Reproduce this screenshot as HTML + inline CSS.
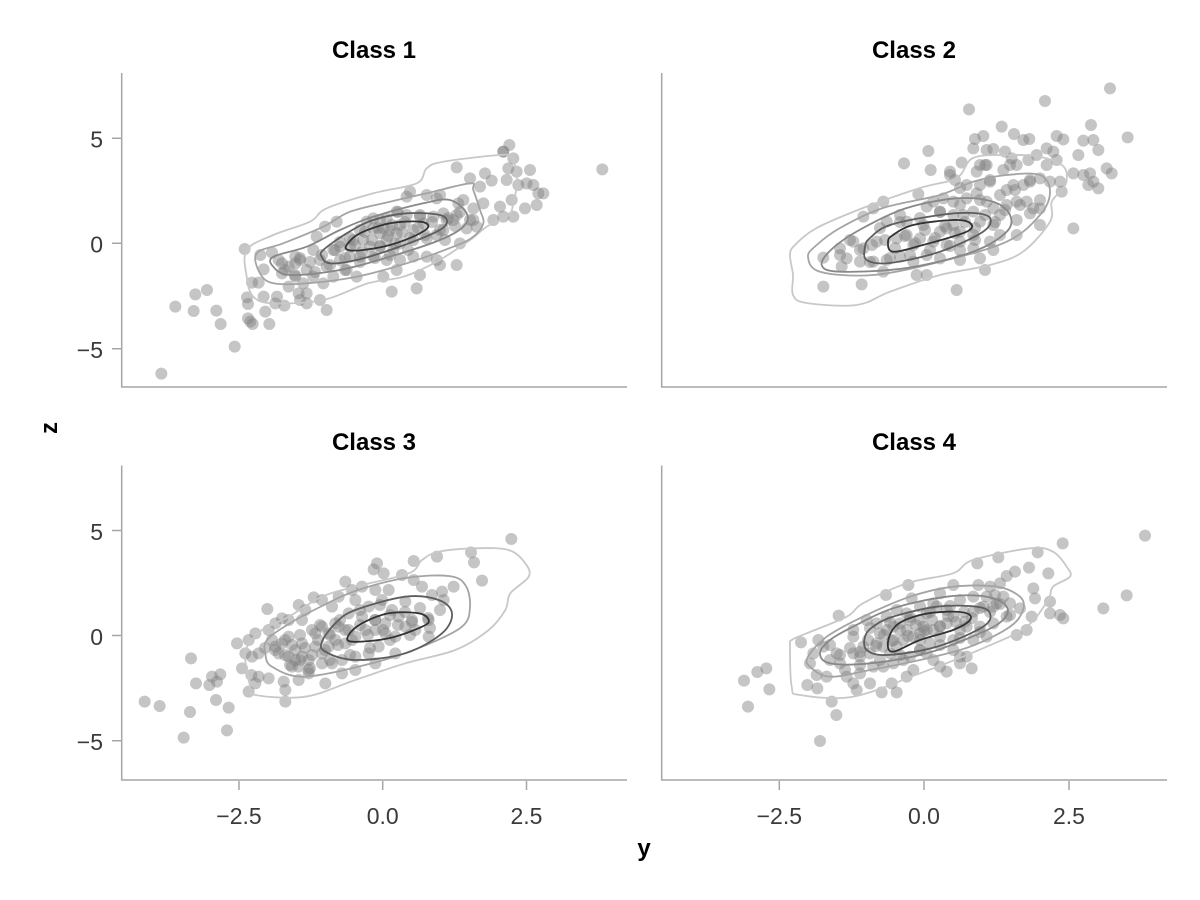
<!DOCTYPE html>
<html><head><meta charset="utf-8"><style>
html,body{margin:0;padding:0;background:#fff}
svg{display:block}
text{font-family:"Liberation Sans",sans-serif}
.tk{font-size:23px;fill:#3a3a3a}
.ti{font-size:24px;font-weight:bold;fill:#000}
.sp{stroke:#a6a6a6;stroke-width:1.5;fill:none}
.c{fill:none;stroke-width:1.8;stroke-linejoin:round}
.l1{stroke:#c8c8c8}.l2{stroke:#a4a4a4}.l3{stroke:#888}.l4{stroke:#5e5e5e}.l5{stroke:#333}
.pt circle{fill:#808080;fill-opacity:0.46}
</style></head><body>
<svg id="chart" width="1200" height="900" viewBox="0 0 1200 900" xmlns="http://www.w3.org/2000/svg">
<rect width="1200" height="900" fill="#fff"/>

<!-- titles -->
<text class="ti" x="374" y="58" text-anchor="middle">Class 1</text>
<text class="ti" x="914" y="58" text-anchor="middle">Class 2</text>
<text class="ti" x="374" y="450" text-anchor="middle">Class 3</text>
<text class="ti" x="914" y="450" text-anchor="middle">Class 4</text>
<text class="ti" x="644" y="856" text-anchor="middle">y</text>
<text class="ti" transform="translate(57,428) rotate(-90)" text-anchor="middle">z</text>

<!-- spines -->
<path class="sp" d="M121.7 73 V387 H627"/>
<path class="sp" d="M661.7 73 V387 H1167"/>
<path class="sp" d="M121.7 465.5 V780 H627"/>
<path class="sp" d="M661.7 465.5 V780 H1167"/>

<!-- y ticks -->
<path class="sp" d="M112 138.3H121M112 243.3H121M112 348.7H121M112 530.5H121M112 635.5H121M112 740.7H121"/>
<text class="tk" x="103" y="147.6" text-anchor="end">5</text>
<text class="tk" x="103" y="252.6" text-anchor="end">0</text>
<text class="tk" x="103" y="358" text-anchor="end">−5</text>
<text class="tk" x="103" y="539.8" text-anchor="end">5</text>
<text class="tk" x="103" y="644.8" text-anchor="end">0</text>
<text class="tk" x="103" y="750" text-anchor="end">−5</text>

<!-- x ticks -->
<path class="sp" d="M239 781V790M382.7 781V790M526.5 781V790M779.3 781V790M924 781V790M1069 781V790"/>
<text class="tk" x="239" y="824" text-anchor="middle">−2.5</text>
<text class="tk" x="382.7" y="824" text-anchor="middle">0.0</text>
<text class="tk" x="526.5" y="824" text-anchor="middle">2.5</text>
<text class="tk" x="779.3" y="824" text-anchor="middle">−2.5</text>
<text class="tk" x="924" y="824" text-anchor="middle">0.0</text>
<text class="tk" x="1069" y="824" text-anchor="middle">2.5</text>

<!-- ===== Panel 1 points ===== -->
<g class="pt" transform="translate(122,130) scale(0.333333)">
<circle cx="118" cy="731" r="18"/><circle cx="338" cy="650" r="18"/><circle cx="160" cy="530" r="18"/><circle cx="215" cy="543" r="18"/><circle cx="220" cy="493" r="18"/><circle cx="255" cy="480" r="18"/><circle cx="283" cy="542" r="18"/><circle cx="296" cy="582" r="18"/><circle cx="368" cy="357" r="18"/><circle cx="415" cy="375" r="18"/><circle cx="425" cy="418" r="18"/><circle cx="390" cy="458" r="18"/><circle cx="410" cy="458" r="18"/><circle cx="375" cy="502" r="18"/><circle cx="378" cy="522" r="18"/><circle cx="425" cy="500" r="18"/><circle cx="465" cy="500" r="18"/><circle cx="487" cy="527" r="18"/><circle cx="430" cy="545" r="18"/><circle cx="442" cy="582" r="18"/><circle cx="385" cy="575" r="18"/><circle cx="392" cy="582" r="18"/><circle cx="378" cy="565" r="18"/><circle cx="450" cy="368" r="18"/><circle cx="470" cy="390" r="18"/><circle cx="480" cy="430" r="18"/><circle cx="500" cy="410" r="18"/><circle cx="520" cy="400" r="18"/><circle cx="530" cy="490" r="18"/><circle cx="520" cy="380" r="18"/><circle cx="480" cy="400" r="18"/><circle cx="500" cy="470" r="18"/><circle cx="460" cy="520" r="18"/><circle cx="520" cy="440" r="18"/>
</g>
<g class="pt" transform="translate(240,150) scale(0.333333)">
<circle cx="650" cy="52" r="18"/><circle cx="690" cy="85" r="18"/><circle cx="720" cy="110" r="18"/><circle cx="735" cy="70" r="18"/><circle cx="755" cy="92" r="18"/><circle cx="790" cy="5" r="18"/><circle cx="820" cy="25" r="18"/><circle cx="805" cy="55" r="18"/><circle cx="830" cy="65" r="18"/><circle cx="870" cy="60" r="18"/><circle cx="800" cy="90" r="18"/><circle cx="835" cy="105" r="18"/><circle cx="860" cy="100" r="18"/><circle cx="880" cy="105" r="18"/><circle cx="895" cy="130" r="18"/><circle cx="815" cy="150" r="18"/><circle cx="780" cy="170" r="18"/><circle cx="855" cy="175" r="18"/><circle cx="890" cy="165" r="18"/><circle cx="760" cy="210" r="18"/><circle cx="790" cy="200" r="18"/><circle cx="820" cy="200" r="18"/><circle cx="730" cy="160" r="18"/><circle cx="700" cy="175" r="18"/><circle cx="700" cy="210" r="18"/><circle cx="710" cy="230" r="18"/><circle cx="680" cy="235" r="18"/><circle cx="660" cy="280" r="18"/><circle cx="650" cy="195" r="18"/><circle cx="640" cy="210" r="18"/><circle cx="655" cy="160" r="18"/><circle cx="670" cy="150" r="18"/><circle cx="600" cy="135" r="18"/><circle cx="590" cy="145" r="18"/><circle cx="560" cy="135" r="18"/><circle cx="510" cy="125" r="18"/><circle cx="500" cy="140" r="18"/><circle cx="470" cy="185" r="18"/><circle cx="440" cy="205" r="18"/><circle cx="400" cy="205" r="18"/><circle cx="380" cy="215" r="18"/><circle cx="360" cy="240" r="18"/><circle cx="400" cy="235" r="18"/><circle cx="430" cy="235" r="18"/><circle cx="450" cy="240" r="18"/><circle cx="470" cy="250" r="18"/><circle cx="480" cy="225" r="18"/><circle cx="520" cy="240" r="18"/><circle cx="550" cy="220" r="18"/><circle cx="560" cy="265" r="18"/><circle cx="590" cy="255" r="18"/><circle cx="610" cy="240" r="18"/><circle cx="620" cy="210" r="18"/><circle cx="610" cy="190" r="18"/><circle cx="580" cy="200" r="18"/><circle cx="540" cy="200" r="18"/><circle cx="500" cy="195" r="18"/><circle cx="520" cy="270" r="18"/><circle cx="480" cy="280" r="18"/><circle cx="440" cy="270" r="18"/><circle cx="420" cy="290" r="18"/><circle cx="390" cy="290" r="18"/><circle cx="370" cy="270" r="18"/><circle cx="340" cy="270" r="18"/><circle cx="300" cy="290" r="18"/><circle cx="280" cy="300" r="18"/><circle cx="290" cy="215" r="18"/><circle cx="255" cy="230" r="18"/><circle cx="230" cy="260" r="18"/><circle cx="220" cy="300" r="18"/><circle cx="240" cy="330" r="18"/><circle cx="260" cy="350" r="18"/><circle cx="300" cy="330" r="18"/><circle cx="330" cy="320" r="18"/><circle cx="360" cy="320" r="18"/><circle cx="400" cy="320" r="18"/><circle cx="440" cy="330" r="18"/><circle cx="480" cy="330" r="18"/><circle cx="520" cy="320" r="18"/><circle cx="560" cy="320" r="18"/><circle cx="590" cy="330" r="18"/><circle cx="600" cy="345" r="18"/><circle cx="650" cy="345" r="18"/><circle cx="540" cy="375" r="18"/><circle cx="530" cy="415" r="18"/><circle cx="455" cy="425" r="18"/><circle cx="470" cy="360" r="18"/><circle cx="430" cy="380" r="18"/><circle cx="350" cy="380" r="18"/><circle cx="320" cy="360" r="18"/><circle cx="280" cy="380" r="18"/><circle cx="250" cy="400" r="18"/><circle cx="220" cy="380" r="18"/><circle cx="200" cy="360" r="18"/><circle cx="180" cy="330" r="18"/><circle cx="190" cy="400" r="18"/><circle cx="200" cy="430" r="18"/><circle cx="200" cy="460" r="18"/><circle cx="240" cy="450" r="18"/><circle cx="260" cy="480" r="18"/><circle cx="180" cy="450" r="18"/><circle cx="420" cy="250" r="18"/><circle cx="460" cy="300" r="18"/><circle cx="330" cy="290" r="18"/>
</g>
<g class="pt" transform="translate(370,130) scale(0.333333)">
<circle cx="697" cy="118" r="18"/><circle cx="520" cy="190" r="18"/><circle cx="418" cy="45" r="18"/><circle cx="400" cy="65" r="18"/>
</g>
<g class="pt">
<circle cx="300" cy="258" r="6"/><circle cx="310" cy="262" r="6"/><circle cx="322" cy="255" r="6"/><circle cx="335" cy="250" r="6"/><circle cx="345" cy="258" r="6"/><circle cx="355" cy="245" r="6"/><circle cx="362" cy="252" r="6"/><circle cx="372" cy="240" r="6"/><circle cx="380" cy="246" r="6"/><circle cx="388" cy="236" r="6"/><circle cx="395" cy="244" r="6"/><circle cx="402" cy="232" r="6"/><circle cx="410" cy="238" r="6"/><circle cx="418" cy="228" r="6"/><circle cx="425" cy="235" r="6"/><circle cx="432" cy="222" r="6"/><circle cx="440" cy="230" r="6"/><circle cx="448" cy="218" r="6"/><circle cx="455" cy="226" r="6"/><circle cx="350" cy="238" r="6"/><circle cx="365" cy="232" r="6"/><circle cx="378" cy="228" r="6"/><circle cx="392" cy="225" r="6"/><circle cx="405" cy="222" r="6"/><circle cx="330" cy="265" r="6"/><circle cx="345" cy="270" r="6"/><circle cx="360" cy="262" r="6"/><circle cx="375" cy="258" r="6"/><circle cx="390" cy="255" r="6"/><circle cx="408" cy="250" r="6"/><circle cx="285" cy="270" r="6"/><circle cx="295" cy="275" r="6"/><circle cx="315" cy="272" r="6"/><circle cx="460" cy="212" r="6"/><circle cx="470" cy="220" r="6"/><circle cx="445" cy="240" r="6"/><circle cx="380" cy="220" r="6"/><circle cx="398" cy="212" r="6"/><circle cx="420" cy="215" r="6"/><circle cx="340" cy="242" r="6"/>
</g>

<!-- Panel 1 contours -->
<polygon class="c l1" points="246.7,250 273.3,235 310,221.7 326.7,208.3 373.3,193.3 416.7,183.3 426.7,168.3 443.3,161.7 500,155 512,158 517,180 513,205 508,216 486.7,226.7 470,240 436.7,261.7 403.3,276.7 368,283.3 323.3,300 273.3,303.3 253.3,296.7 246.7,276.7"/>
<polygon class="c l2" points="256.7,253.3 283.3,243.3 323.3,226.7 350,211.7 390,201.7 426.7,193.3 470,183.3 473.3,190 480,210 483.3,223.3 473.3,236.7 453.3,246.7 406.7,263.3 356.7,276.7 306.7,283.3 273.3,283.3 260,273.3"/>
<polygon class="c l3" points="273.3,256.7 306.7,246.7 340,230 373.3,216.7 423.3,203.3 450,200 466.7,213.3 463.3,226.7 440,240 390,256.7 340,270 290,275 273.3,266.7"/>
<polygon class="c l4" points="323.3,250 346.7,233.3 373.3,220 406.7,213.3 440,215 446.7,223.3 433.3,233.3 390,250 356.7,260 330,263.3 321.7,256.7"/>
<polygon class="c l5" points="346.7,245 360,233.3 390,223.3 420,221.7 428.3,226.7 416.7,235 390,245 363.3,250 348.3,250"/>

<!-- ===== Panel 2 points ===== -->
<g class="pt" transform="translate(740,75) scale(0.333333)">
<circle cx="1110" cy="40" r="18"/><circle cx="915" cy="78" r="18"/><circle cx="687" cy="103" r="18"/><circle cx="785" cy="155" r="18"/><circle cx="822" cy="177" r="18"/><circle cx="1053" cy="150" r="18"/><circle cx="1163" cy="187" r="18"/><circle cx="705" cy="192" r="18"/><circle cx="730" cy="183" r="18"/><circle cx="850" cy="195" r="18"/><circle cx="868" cy="192" r="18"/><circle cx="950" cy="183" r="18"/><circle cx="970" cy="193" r="18"/><circle cx="1030" cy="197" r="18"/><circle cx="1060" cy="195" r="18"/><circle cx="1075" cy="225" r="18"/><circle cx="1015" cy="240" r="18"/><circle cx="700" cy="220" r="18"/><circle cx="740" cy="225" r="18"/><circle cx="760" cy="222" r="18"/><circle cx="795" cy="230" r="18"/><circle cx="815" cy="250" r="18"/><circle cx="565" cy="228" r="18"/><circle cx="492" cy="265" r="18"/><circle cx="572" cy="285" r="18"/><circle cx="630" cy="290" r="18"/><circle cx="665" cy="263" r="18"/><circle cx="720" cy="270" r="18"/><circle cx="740" cy="270" r="18"/><circle cx="710" cy="290" r="18"/><circle cx="790" cy="285" r="18"/><circle cx="830" cy="270" r="18"/><circle cx="865" cy="255" r="18"/><circle cx="890" cy="240" r="18"/><circle cx="920" cy="220" r="18"/><circle cx="940" cy="230" r="18"/><circle cx="920" cy="270" r="18"/><circle cx="950" cy="255" r="18"/><circle cx="1000" cy="295" r="18"/><circle cx="1030" cy="300" r="18"/><circle cx="1050" cy="295" r="18"/><circle cx="1100" cy="280" r="18"/><circle cx="1115" cy="295" r="18"/><circle cx="1045" cy="330" r="18"/><circle cx="1075" cy="340" r="18"/><circle cx="1060" cy="320" r="18"/><circle cx="960" cy="320" r="18"/><circle cx="965" cy="350" r="18"/><circle cx="930" cy="320" r="18"/><circle cx="900" cy="310" r="18"/><circle cx="870" cy="320" r="18"/><circle cx="850" cy="330" r="18"/><circle cx="820" cy="330" r="18"/><circle cx="800" cy="345" r="18"/><circle cx="750" cy="320" r="18"/><circle cx="720" cy="330" r="18"/><circle cx="680" cy="330" r="18"/><circle cx="645" cy="315" r="18"/><circle cx="610" cy="370" r="18"/><circle cx="640" cy="380" r="18"/><circle cx="680" cy="370" r="18"/><circle cx="710" cy="355" r="18"/><circle cx="740" cy="380" r="18"/><circle cx="760" cy="400" r="18"/><circle cx="780" cy="420" r="18"/><circle cx="800" cy="390" r="18"/><circle cx="830" cy="380" r="18"/><circle cx="860" cy="380" r="18"/><circle cx="880" cy="400" r="18"/><circle cx="900" cy="400" r="18"/><circle cx="870" cy="415" r="18"/><circle cx="830" cy="435" r="18"/><circle cx="830" cy="480" r="18"/><circle cx="780" cy="480" r="18"/><circle cx="760" cy="450" r="18"/><circle cx="720" cy="440" r="18"/><circle cx="700" cy="410" r="18"/><circle cx="670" cy="420" r="18"/><circle cx="640" cy="420" r="18"/><circle cx="600" cy="410" r="18"/><circle cx="580" cy="380" r="18"/><circle cx="535" cy="357" r="18"/><circle cx="560" cy="395" r="18"/><circle cx="480" cy="420" r="18"/><circle cx="430" cy="380" r="18"/><circle cx="400" cy="400" r="18"/><circle cx="370" cy="425" r="18"/><circle cx="440" cy="440" r="18"/><circle cx="500" cy="440" r="18"/><circle cx="550" cy="450" r="18"/><circle cx="620" cy="460" r="18"/><circle cx="660" cy="470" r="18"/><circle cx="700" cy="480" r="18"/><circle cx="1000" cy="460" r="18"/><circle cx="900" cy="450" r="18"/><circle cx="500" cy="480" r="18"/><circle cx="470" cy="490" r="18"/><circle cx="540" cy="490" r="18"/><circle cx="580" cy="500" r="18"/><circle cx="620" cy="510" r="18"/><circle cx="660" cy="500" r="18"/><circle cx="700" cy="520" r="18"/><circle cx="760" cy="525" r="18"/><circle cx="720" cy="550" r="18"/><circle cx="735" cy="585" r="18"/><circle cx="650" cy="645" r="18"/><circle cx="560" cy="600" r="18"/><circle cx="530" cy="600" r="18"/><circle cx="520" cy="560" r="18"/><circle cx="480" cy="545" r="18"/><circle cx="440" cy="555" r="18"/><circle cx="400" cy="560" r="18"/><circle cx="360" cy="560" r="18"/><circle cx="370" cy="520" r="18"/><circle cx="340" cy="500" r="18"/><circle cx="300" cy="520" r="18"/><circle cx="410" cy="500" r="18"/><circle cx="320" cy="550" r="18"/><circle cx="305" cy="575" r="18"/><circle cx="250" cy="548" r="18"/><circle cx="250" cy="635" r="18"/><circle cx="365" cy="628" r="18"/><circle cx="430" cy="590" r="18"/><circle cx="660" cy="555" r="18"/><circle cx="600" cy="550" r="18"/><circle cx="560" cy="540" r="18"/><circle cx="750" cy="500" r="18"/><circle cx="600" cy="470" r="18"/><circle cx="520" cy="510" r="18"/><circle cx="640" cy="450" r="18"/>
</g>
<g class="pt">
<circle cx="860" cy="250" r="6"/><circle cx="872" cy="245" r="6"/><circle cx="885" cy="240" r="6"/><circle cx="895" cy="248" r="6"/><circle cx="905" cy="236" r="6"/><circle cx="915" cy="243" r="6"/><circle cx="925" cy="230" r="6"/><circle cx="935" cy="238" r="6"/><circle cx="945" cy="226" r="6"/><circle cx="955" cy="233" r="6"/><circle cx="965" cy="222" r="6"/><circle cx="975" cy="228" r="6"/><circle cx="985" cy="215" r="6"/><circle cx="995" cy="222" r="6"/><circle cx="1005" cy="210" r="6"/><circle cx="880" cy="228" r="6"/><circle cx="900" cy="222" r="6"/><circle cx="920" cy="218" r="6"/><circle cx="940" cy="212" r="6"/><circle cx="960" cy="205" r="6"/><circle cx="980" cy="200" r="6"/><circle cx="1000" cy="195" r="6"/><circle cx="870" cy="262" r="6"/><circle cx="890" cy="258" r="6"/><circle cx="910" cy="255" r="6"/><circle cx="930" cy="250" r="6"/><circle cx="950" cy="246" r="6"/><circle cx="975" cy="240" r="6"/><circle cx="1015" cy="190" r="6"/><circle cx="1030" cy="180" r="6"/><circle cx="990" cy="180" r="6"/><circle cx="960" cy="188" r="6"/><circle cx="1020" cy="205" r="6"/><circle cx="850" cy="240" r="6"/><circle cx="840" cy="255" r="6"/><circle cx="960" cy="250" r="6"/><circle cx="1040" cy="200" r="6"/><circle cx="1010" cy="165" r="6"/><circle cx="985" cy="165" r="6"/><circle cx="950" cy="175" r="6"/>
</g>

<!-- Panel 2 contours -->
<polygon class="c l1" points="790,255 793,275 793,295 806.7,303 856.7,305 890,291.7 940,275 990,265 1023,251.7 1050,221.7 1051.7,201.7 1062,190 1066.7,180 1063,166 1040,156.7 1006.7,155 973,158 956.7,178 920,188 863,208 816.7,228 795,245"/>
<polygon class="c l2" points="808,256.7 820,271.7 873,275 940,261.7 1006.7,241.7 1040,215 1050,191.7 1040,175 1006.7,175 973,181.7 940,195 883,208 840,228 816.7,245"/>
<polygon class="c l3" points="821.7,265 840,271.7 906.7,268 973,251.7 1006.7,231.7 1010,215 993,201.7 956.7,198.3 906.7,208 863,228 833,248"/>
<polygon class="c l4" points="865,246.7 866.7,260 890,263 940,251.7 983,231.7 990,218 973,213 940,215 890,225 870,238"/>
<polygon class="c l5" points="888,241.7 893,251.7 923,245 966.7,231.7 970,223 953,220 913,225 893,235"/>

<!-- ===== Panel 3 points ===== -->
<g class="pt" transform="translate(122,520) scale(0.333333)">
<circle cx="1168" cy="57" r="18"/><circle cx="1047" cy="97" r="18"/><circle cx="1056" cy="127" r="18"/><circle cx="945" cy="110" r="18"/><circle cx="875" cy="123" r="18"/><circle cx="765" cy="130" r="18"/><circle cx="755" cy="148" r="18"/><circle cx="785" cy="160" r="18"/><circle cx="840" cy="165" r="18"/><circle cx="875" cy="180" r="18"/><circle cx="900" cy="200" r="18"/><circle cx="995" cy="200" r="18"/><circle cx="1080" cy="182" r="18"/><circle cx="960" cy="215" r="18"/><circle cx="965" cy="240" r="18"/><circle cx="930" cy="225" r="18"/><circle cx="850" cy="245" r="18"/><circle cx="800" cy="210" r="18"/><circle cx="760" cy="210" r="18"/><circle cx="720" cy="200" r="18"/><circle cx="690" cy="210" r="18"/><circle cx="670" cy="185" r="18"/><circle cx="650" cy="230" r="18"/><circle cx="630" cy="260" r="18"/><circle cx="600" cy="240" r="18"/><circle cx="575" cy="232" r="18"/><circle cx="530" cy="255" r="18"/><circle cx="550" cy="270" r="18"/><circle cx="436" cy="267" r="18"/><circle cx="480" cy="295" r="18"/><circle cx="460" cy="310" r="18"/><circle cx="500" cy="300" r="18"/><circle cx="540" cy="300" r="18"/><circle cx="570" cy="330" r="18"/><circle cx="600" cy="320" r="18"/><circle cx="620" cy="340" r="18"/><circle cx="640" cy="310" r="18"/><circle cx="680" cy="280" r="18"/><circle cx="700" cy="240" r="18"/><circle cx="740" cy="260" r="18"/><circle cx="780" cy="240" r="18"/><circle cx="810" cy="270" r="18"/><circle cx="830" cy="290" r="18"/><circle cx="870" cy="300" r="18"/><circle cx="920" cy="300" r="18"/><circle cx="920" cy="350" r="18"/><circle cx="880" cy="330" r="18"/><circle cx="850" cy="320" r="18"/><circle cx="820" cy="350" r="18"/><circle cx="790" cy="340" r="18"/><circle cx="760" cy="330" r="18"/><circle cx="730" cy="330" r="18"/><circle cx="700" cy="350" r="18"/><circle cx="670" cy="370" r="18"/><circle cx="640" cy="360" r="18"/><circle cx="620" cy="380" r="18"/><circle cx="600" cy="400" r="18"/><circle cx="580" cy="380" r="18"/><circle cx="540" cy="370" r="18"/><circle cx="500" cy="350" r="18"/><circle cx="480" cy="370" r="18"/><circle cx="450" cy="360" r="18"/><circle cx="440" cy="330" r="18"/><circle cx="400" cy="340" r="18"/><circle cx="380" cy="360" r="18"/><circle cx="345" cy="370" r="18"/><circle cx="370" cy="400" r="18"/><circle cx="390" cy="410" r="18"/><circle cx="410" cy="400" r="18"/><circle cx="470" cy="400" r="18"/><circle cx="500" cy="410" r="18"/><circle cx="520" cy="420" r="18"/><circle cx="530" cy="440" r="18"/><circle cx="560" cy="450" r="18"/><circle cx="600" cy="430" r="18"/><circle cx="630" cy="430" r="18"/><circle cx="660" cy="420" r="18"/><circle cx="700" cy="410" r="18"/><circle cx="740" cy="400" r="18"/><circle cx="770" cy="380" r="18"/><circle cx="820" cy="400" r="18"/><circle cx="760" cy="430" r="18"/><circle cx="700" cy="450" r="18"/><circle cx="660" cy="460" r="18"/><circle cx="610" cy="490" r="18"/><circle cx="560" cy="460" r="18"/><circle cx="530" cy="480" r="18"/><circle cx="485" cy="485" r="18"/><circle cx="490" cy="510" r="18"/><circle cx="490" cy="545" r="18"/><circle cx="440" cy="475" r="18"/><circle cx="410" cy="470" r="18"/><circle cx="400" cy="490" r="18"/><circle cx="380" cy="515" r="18"/><circle cx="360" cy="445" r="18"/><circle cx="388" cy="465" r="18"/><circle cx="207" cy="415" r="18"/><circle cx="222" cy="490" r="18"/><circle cx="262" cy="495" r="18"/><circle cx="270" cy="470" r="18"/><circle cx="295" cy="463" r="18"/><circle cx="285" cy="485" r="18"/><circle cx="282" cy="540" r="18"/><circle cx="320" cy="563" r="18"/><circle cx="315" cy="631" r="18"/><circle cx="204" cy="576" r="18"/><circle cx="185" cy="653" r="18"/><circle cx="68" cy="545" r="18"/><circle cx="113" cy="558" r="18"/><circle cx="520" cy="390" r="18"/><circle cx="540" cy="410" r="18"/><circle cx="560" cy="420" r="18"/><circle cx="580" cy="340" r="18"/><circle cx="650" cy="320" r="18"/><circle cx="680" cy="330" r="18"/><circle cx="720" cy="290" r="18"/><circle cx="760" cy="300" r="18"/><circle cx="790" cy="310" r="18"/><circle cx="510" cy="440" r="18"/><circle cx="460" cy="380" r="18"/>
</g>
<g class="pt">
<circle cx="275" cy="650" r="6"/><circle cx="285" cy="655" r="6"/><circle cx="292" cy="645" r="6"/><circle cx="300" cy="660" r="6"/><circle cx="305" cy="648" r="6"/><circle cx="312" cy="655" r="6"/><circle cx="318" cy="640" r="6"/><circle cx="325" cy="650" r="6"/><circle cx="330" cy="635" r="6"/><circle cx="338" cy="645" r="6"/><circle cx="345" cy="630" r="6"/><circle cx="352" cy="640" r="6"/><circle cx="360" cy="625" r="6"/><circle cx="368" cy="635" r="6"/><circle cx="375" cy="620" r="6"/><circle cx="383" cy="630" r="6"/><circle cx="390" cy="615" r="6"/><circle cx="398" cy="625" r="6"/><circle cx="405" cy="612" r="6"/><circle cx="412" cy="622" r="6"/><circle cx="420" cy="608" r="6"/><circle cx="428" cy="618" r="6"/><circle cx="300" cy="635" r="6"/><circle cx="290" cy="665" r="6"/><circle cx="310" cy="668" r="6"/><circle cx="330" cy="660" r="6"/><circle cx="350" cy="655" r="6"/><circle cx="370" cy="648" r="6"/><circle cx="390" cy="640" r="6"/><circle cx="410" cy="635" r="6"/><circle cx="430" cy="628" r="6"/><circle cx="440" cy="610" r="6"/><circle cx="320" cy="625" r="6"/><circle cx="340" cy="620" r="6"/><circle cx="360" cy="610" r="6"/><circle cx="380" cy="605" r="6"/><circle cx="285" cy="640" r="6"/><circle cx="265" cy="648" r="6"/>
</g>

<!-- Panel 3 contours -->
<polygon class="c l1" points="247,646.7 245.3,660 250.3,686.7 255.3,695 305.3,696.7 355.3,680 405.3,663.3 455.3,650 488.7,630 505.3,610 510.3,593.3 528.7,576.7 525.3,563.3 508.7,550 475.3,548.3 438.7,551.7 422,560 408.7,573.3 355.3,586.7 322,596.7 288.7,616.7 262,630"/>
<polygon class="c l2" points="267,640 265.3,653.3 272,666.7 305.3,676.7 372,663.3 422,646.7 462,626.7 470,606.7 465.3,585 448.7,576 405.3,578 355.3,591 322,606 288.7,624"/>
<polygon class="c l4" points="322,641.7 325.3,651.7 355.3,660 405.3,653.3 442,633.3 452,613.3 438.7,600 405.3,596.7 355.3,610 335.3,623.3"/>
<polygon class="c l5" points="348.7,635 352,641.7 388.7,638.3 422,626.7 428.7,620 418.7,613.3 388.7,613.3 362,623.3"/>

<!-- ===== Panel 4 points ===== -->
<g class="pt" transform="translate(720,520) scale(0.333333)">
<circle cx="1275" cy="47" r="18"/><circle cx="1028" cy="70" r="18"/><circle cx="953" cy="97" r="18"/><circle cx="835" cy="112" r="18"/><circle cx="772" cy="130" r="18"/><circle cx="985" cy="160" r="18"/><circle cx="927" cy="143" r="18"/><circle cx="885" cy="155" r="18"/><circle cx="860" cy="168" r="18"/><circle cx="840" cy="190" r="18"/><circle cx="810" cy="200" r="18"/><circle cx="775" cy="195" r="18"/><circle cx="700" cy="195" r="18"/><circle cx="660" cy="220" r="18"/><circle cx="565" cy="195" r="18"/><circle cx="498" cy="225" r="18"/><circle cx="575" cy="235" r="18"/><circle cx="356" cy="287" r="18"/><circle cx="243" cy="367" r="18"/><circle cx="295" cy="360" r="18"/><circle cx="280" cy="400" r="18"/><circle cx="270" cy="430" r="18"/><circle cx="290" cy="465" r="18"/><circle cx="262" cy="495" r="18"/><circle cx="292" cy="505" r="18"/><circle cx="335" cy="545" r="18"/><circle cx="349" cy="585" r="18"/><circle cx="300" cy="663" r="18"/><circle cx="72" cy="482" r="18"/><circle cx="84" cy="560" r="18"/><circle cx="112" cy="456" r="18"/><circle cx="139" cy="445" r="18"/><circle cx="148" cy="508" r="18"/><circle cx="1220" cy="226" r="18"/><circle cx="1150" cy="265" r="18"/><circle cx="1020" cy="285" r="18"/><circle cx="1030" cy="295" r="18"/><circle cx="990" cy="245" r="18"/><circle cx="990" cy="280" r="18"/><circle cx="945" cy="235" r="18"/><circle cx="940" cy="205" r="18"/><circle cx="935" cy="290" r="18"/><circle cx="920" cy="330" r="18"/><circle cx="890" cy="345" r="18"/><circle cx="900" cy="265" r="18"/><circle cx="870" cy="250" r="18"/><circle cx="850" cy="230" r="18"/><circle cx="820" cy="260" r="18"/><circle cx="790" cy="260" r="18"/><circle cx="760" cy="275" r="18"/><circle cx="735" cy="305" r="18"/><circle cx="720" cy="330" r="18"/><circle cx="740" cy="320" r="18"/><circle cx="800" cy="350" r="18"/><circle cx="760" cy="360" r="18"/><circle cx="700" cy="360" r="18"/><circle cx="720" cy="410" r="18"/><circle cx="740" cy="410" r="18"/><circle cx="755" cy="445" r="18"/><circle cx="720" cy="430" r="18"/><circle cx="680" cy="455" r="18"/><circle cx="660" cy="440" r="18"/><circle cx="640" cy="420" r="18"/><circle cx="620" cy="400" r="18"/><circle cx="600" cy="390" r="18"/><circle cx="570" cy="410" r="18"/><circle cx="580" cy="450" r="18"/><circle cx="560" cy="470" r="18"/><circle cx="530" cy="517" r="18"/><circle cx="485" cy="517" r="18"/><circle cx="515" cy="490" r="18"/><circle cx="490" cy="440" r="18"/><circle cx="460" cy="440" r="18"/><circle cx="420" cy="460" r="18"/><circle cx="400" cy="490" r="18"/><circle cx="410" cy="510" r="18"/><circle cx="450" cy="490" r="18"/><circle cx="380" cy="470" r="18"/><circle cx="360" cy="430" r="18"/><circle cx="330" cy="420" r="18"/><circle cx="320" cy="470" r="18"/><circle cx="350" cy="400" r="18"/><circle cx="310" cy="380" r="18"/><circle cx="400" cy="400" r="18"/><circle cx="400" cy="350" r="18"/><circle cx="430" cy="380" r="18"/><circle cx="450" cy="400" r="18"/><circle cx="470" cy="370" r="18"/><circle cx="490" cy="380" r="18"/><circle cx="510" cy="400" r="18"/><circle cx="530" cy="380" r="18"/><circle cx="550" cy="360" r="18"/><circle cx="580" cy="350" r="18"/><circle cx="600" cy="340" r="18"/><circle cx="620" cy="330" r="18"/><circle cx="640" cy="330" r="18"/><circle cx="660" cy="320" r="18"/><circle cx="680" cy="310" r="18"/><circle cx="700" cy="290" r="18"/><circle cx="680" cy="270" r="18"/><circle cx="650" cy="260" r="18"/><circle cx="620" cy="280" r="18"/><circle cx="600" cy="300" r="18"/><circle cx="570" cy="300" r="18"/><circle cx="540" cy="310" r="18"/><circle cx="520" cy="320" r="18"/><circle cx="500" cy="330" r="18"/><circle cx="480" cy="340" r="18"/><circle cx="470" cy="310" r="18"/><circle cx="500" cy="290" r="18"/><circle cx="530" cy="270" r="18"/><circle cx="560" cy="280" r="18"/><circle cx="600" cy="260" r="18"/><circle cx="640" cy="250" r="18"/><circle cx="720" cy="240" r="18"/><circle cx="760" cy="230" r="18"/><circle cx="800" cy="230" r="18"/><circle cx="830" cy="250" r="18"/><circle cx="860" cy="290" r="18"/><circle cx="820" cy="310" r="18"/><circle cx="780" cy="320" r="18"/><circle cx="600" cy="360" r="18"/><circle cx="630" cy="370" r="18"/><circle cx="550" cy="420" r="18"/><circle cx="520" cy="430" r="18"/><circle cx="700" cy="390" r="18"/><circle cx="420" cy="410" r="18"/><circle cx="440" cy="300" r="18"/><circle cx="400" cy="330" r="18"/><circle cx="560" cy="330" r="18"/><circle cx="610" cy="320" r="18"/><circle cx="660" cy="350" r="18"/><circle cx="520" cy="360" r="18"/>
</g>
<g class="pt">
<circle cx="840" cy="655" r="6"/><circle cx="850" cy="648" r="6"/><circle cx="860" cy="652" r="6"/><circle cx="868" cy="640" r="6"/><circle cx="876" cy="646" r="6"/><circle cx="884" cy="635" r="6"/><circle cx="892" cy="641" r="6"/><circle cx="900" cy="630" r="6"/><circle cx="908" cy="636" r="6"/><circle cx="916" cy="625" r="6"/><circle cx="924" cy="631" r="6"/><circle cx="932" cy="620" r="6"/><circle cx="940" cy="626" r="6"/><circle cx="948" cy="616" r="6"/><circle cx="956" cy="622" r="6"/><circle cx="964" cy="612" r="6"/><circle cx="972" cy="618" r="6"/><circle cx="980" cy="608" r="6"/><circle cx="990" cy="612" r="6"/><circle cx="1000" cy="604" r="6"/><circle cx="870" cy="628" r="6"/><circle cx="890" cy="622" r="6"/><circle cx="910" cy="617" r="6"/><circle cx="930" cy="612" r="6"/><circle cx="950" cy="606" r="6"/><circle cx="860" cy="665" r="6"/><circle cx="880" cy="660" r="6"/><circle cx="900" cy="655" r="6"/><circle cx="920" cy="650" r="6"/><circle cx="940" cy="645" r="6"/><circle cx="960" cy="638" r="6"/><circle cx="980" cy="632" r="6"/><circle cx="830" cy="645" r="6"/><circle cx="845" cy="670" r="6"/><circle cx="1010" cy="615" r="6"/><circle cx="995" cy="595" r="6"/>
</g>

<!-- Panel 4 contours -->
<polygon class="c l1" points="790,646.7 791.7,686.7 800,695 853,696.7 920,673.3 986.7,646.7 1026.7,626.7 1048,600 1053,586.7 1070,576.7 1066.7,566.7 1053,551.7 1030,548.3 973,560 953,573.3 906.7,583.3 863,603.3 846.7,616.7 806.7,633.3 791.7,640"/>
<polygon class="c l2" points="808,656.7 810,666.7 830,676.7 870,670 920,660 970,646.7 1010,626.7 1023,610 1020,596.7 996.7,586.7 953,586.7 910,596.7 863,616.7 826.7,636.7"/>
<polygon class="c l3" points="820,653.3 830,663.3 870,663.3 926.7,653.3 980,633.3 1003,620 1006.7,606.7 986.7,596.7 946.7,596.7 893,608.3 853,626.7 830,640"/>
<polygon class="c l4" points="865,636.7 866.7,650 886.7,655 936.7,646.7 983,626.7 990,613.3 976.7,606.7 936.7,606.7 893,616.7 873,626.7"/>
<polygon class="c l5" points="888,641.7 893,651.7 920,640 953,630 970,620 966.7,613.3 946.7,611.7 920,615 896.7,625"/>
</svg>
<script>
(function(){
  try{
    var NS="http://www.w3.org/2000/svg";
    var polys=document.querySelectorAll("polygon.c");
    for(var k=0;k<polys.length;k++){
      var pg=polys[k];
      var raw=pg.getAttribute("points").trim().split(/\s+/);
      var p=[];
      for(var i=0;i<raw.length;i++){var a=raw[i].split(",");p.push([+a[0],+a[1]]);}
      var n=p.length; if(n<3) continue;
      var d="M"+p[0][0]+" "+p[0][1];
      for(var i=0;i<n;i++){
        var p0=p[(i-1+n)%n],p1=p[i],p2=p[(i+1)%n],p3=p[(i+2)%n];
        var c1x=p1[0]+(p2[0]-p0[0])/6,c1y=p1[1]+(p2[1]-p0[1])/6;
        var c2x=p2[0]-(p3[0]-p1[0])/6,c2y=p2[1]-(p3[1]-p1[1])/6;
        d+="C"+c1x.toFixed(1)+" "+c1y.toFixed(1)+" "+c2x.toFixed(1)+" "+c2y.toFixed(1)+" "+p2[0]+" "+p2[1];
      }
      d+="Z";
      var path=document.createElementNS(NS,"path");
      path.setAttribute("d",d);
      path.setAttribute("class",pg.getAttribute("class"));
      pg.parentNode.replaceChild(path,pg);
    }
  }catch(e){}
})();
</script>
</body></html>
